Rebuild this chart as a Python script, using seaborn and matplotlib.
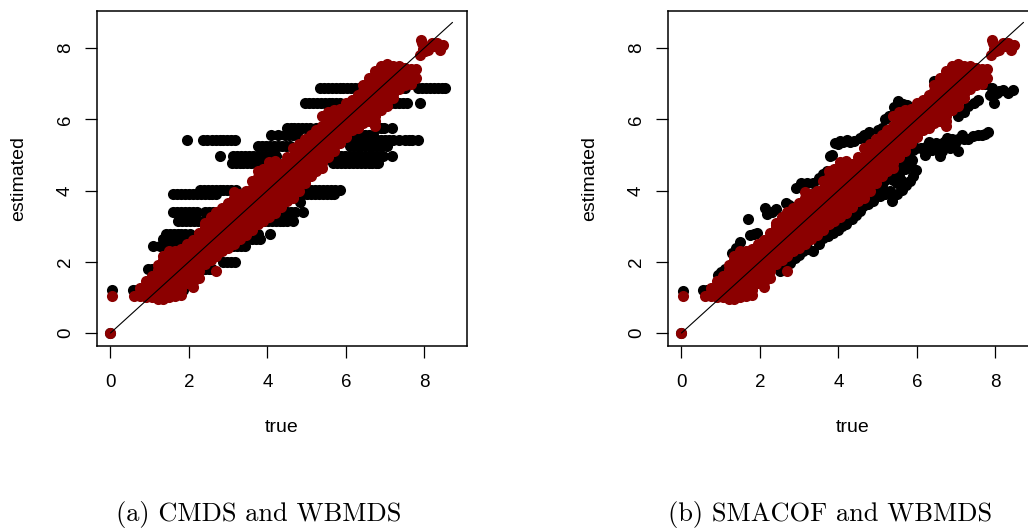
import matplotlib
matplotlib.use('Agg')
import matplotlib.pyplot as plt
import pandas as pd
import seaborn as sns

# WBMDS points, the same in both panels (true value -> estimated values)
red_true = [0.0, 0.05, 0.6, 0.75, 0.9, 1.05, 1.2, 1.35, 1.5, 1.65, 1.8, 1.95, 2.1, 2.25, 2.4,
            2.55, 2.7, 2.85, 3.0, 3.15, 3.3, 3.45, 3.6, 3.75, 3.9, 4.05, 4.2, 4.35, 4.5, 4.65,
            4.8, 4.95, 5.1, 5.25, 5.4, 5.55, 5.7, 5.85, 6.0, 6.15, 6.3, 6.45, 6.6, 6.75, 6.9,
            7.05, 7.2, 7.35, 7.5, 7.65, 7.8]
red_est = [[0.0], [1.03], [1.05], [1.05, 1.25], [1.0, 1.2, 1.45], [1.0, 1.2, 1.4, 1.6],
           [0.95, 1.15, 1.4, 1.65, 1.9], [0.95, 1.2, 1.45, 1.7, 1.95, 2.15], [1.0, 1.25, 1.5, 1.75, 2.0, 2.3],
           [1.05, 1.3, 1.55, 1.8, 2.05, 2.3], [1.08, 1.3, 1.6, 1.85, 2.1, 2.35], [1.4, 1.7, 1.95, 2.2, 2.5],
           [1.3, 1.55, 1.8, 2.05, 2.3, 2.6], [1.55, 1.95, 2.2, 2.45, 2.8], [1.95, 2.2, 2.45, 2.7, 2.95, 3.1],
           [2.05, 2.3, 2.55, 2.8, 3.05, 3.25], [1.74, 2.15, 2.4, 2.65, 2.9, 3.15, 3.4], [2.3, 2.55, 2.8, 3.05, 3.3, 3.5],
           [2.4, 2.65, 2.9, 3.15, 3.4, 3.65], [2.5, 2.75, 3.0, 3.25, 3.5, 3.96], [2.63, 2.9, 3.15, 3.4, 3.65, 3.9],
           [2.75, 3.0, 3.25, 3.5, 3.75, 4.0], [2.9, 3.15, 3.4, 3.65, 3.9, 4.26], [3.05, 3.3, 3.55, 3.8, 4.05, 4.54],
           [3.15, 3.4, 3.65, 3.9, 4.15, 4.4, 4.6], [3.25, 3.5, 3.75, 4.0, 4.25, 4.5, 4.8], [3.37, 3.6, 3.85, 4.1, 4.35, 4.6, 4.82],
           [3.55, 3.8, 4.05, 4.3, 4.55, 4.75], [3.7, 3.95, 4.2, 4.45, 4.7, 4.95], [3.8, 4.05, 4.3, 4.55, 4.8, 5.2],
           [3.98, 4.25, 4.5, 4.75, 5.0, 5.3], [4.2, 4.45, 4.7, 4.95, 5.2, 5.45], [4.4, 4.65, 4.9, 5.15, 5.4, 5.55],
           [4.55, 4.8, 5.05, 5.3, 5.55, 5.7], [4.63, 4.9, 5.15, 5.4, 5.65, 6.08], [4.95, 5.2, 5.45, 5.7, 5.95, 6.2],
           [5.1, 5.35, 5.6, 5.85, 6.1, 6.27], [5.34, 5.6, 5.85, 6.1, 6.3], [5.5, 5.75, 6.0, 6.25, 6.45],
           [5.7, 5.95, 6.2, 6.4, 6.55], [5.76, 6.0, 6.25, 6.5, 6.69], [5.9, 6.15, 6.4, 6.65, 6.95],
           [5.95, 6.2, 6.45, 6.7, 6.95, 7.15], [5.8, 6.1, 6.35, 6.6, 6.85, 7.1, 7.35], [6.25, 6.5, 6.75, 7.0, 7.25, 7.5],
           [6.36, 6.6, 6.85, 7.1, 7.35, 7.55], [6.6, 6.85, 7.1, 7.35, 7.5], [6.85, 7.1, 7.3, 7.5], [6.97, 7.2, 7.44],
           [7.0, 7.2, 7.42], [7.4, 7.15]]
# points between those above, same columns
red_est_mid = [[], [], [], [1.15], [1.1, 1.32], [1.1, 1.3, 1.5], [1.05, 1.28, 1.52, 1.78],
               [1.08, 1.32, 1.58, 1.82, 2.05], [1.12, 1.38, 1.62, 1.88, 2.15], [1.18, 1.42, 1.68, 1.92, 2.18],
               [1.2, 1.45, 1.72, 1.98, 2.22], [1.55, 1.82, 2.08, 2.35], [1.42, 1.68, 1.92, 2.18, 2.45],
               [1.75, 2.08, 2.32, 2.62], [2.08, 2.32, 2.58, 2.82, 3.02], [2.18, 2.42, 2.68, 2.92, 3.15],
               [2.28, 2.52, 2.78, 3.02, 3.28], [2.42, 2.68, 2.92, 3.18, 3.4], [2.52, 2.78, 3.02, 3.28, 3.52],
               [2.62, 2.88, 3.12, 3.38, 3.62, 3.8], [2.76, 3.02, 3.28, 3.52, 3.78], [2.88, 3.12, 3.38, 3.62, 3.88],
               [3.02, 3.28, 3.52, 3.78, 4.05], [3.18, 3.42, 3.68, 3.92, 4.2, 4.38], [3.28, 3.52, 3.78, 4.02, 4.28, 4.5],
               [3.38, 3.62, 3.88, 4.12, 4.38, 4.65], [3.48, 3.72, 3.98, 4.22, 4.48, 4.72], [3.68, 3.92, 4.18, 4.42, 4.65],
               [3.82, 4.08, 4.32, 4.58, 4.82], [3.92, 4.18, 4.42, 4.68, 4.95], [4.12, 4.38, 4.62, 4.88, 5.15],
               [4.32, 4.58, 4.82, 5.08, 5.32], [4.52, 4.78, 5.02, 5.28, 5.48], [4.68, 4.92, 5.18, 5.42, 5.62],
               [4.78, 5.02, 5.28, 5.52, 5.8], [5.08, 5.32, 5.58, 5.82, 6.08], [5.22, 5.48, 5.72, 5.98, 6.18],
               [5.48, 5.72, 5.98, 6.2], [5.62, 5.88, 6.12, 6.35], [5.82, 6.08, 6.3, 6.48], [5.88, 6.12, 6.38, 6.6],
               [6.02, 6.28, 6.52, 6.8], [6.08, 6.32, 6.58, 6.82, 7.05], [5.95, 6.22, 6.48, 6.72, 6.98, 7.22],
               [6.38, 6.62, 6.88, 7.12, 7.38], [6.48, 6.72, 6.98, 7.22, 7.45], [6.72, 6.98, 7.22, 7.42],
               [6.98, 7.2, 7.4], [7.08, 7.32], [7.1, 7.3], []]
red_tip_true = [7.91, 7.93, 7.89, 8.02, 8.1, 8.19, 8.32, 8.49, 8.4, 7.97, 8.26]
red_tip_est = [8.23, 8.14, 7.81, 7.91, 7.95, 8.14, 8.14, 8.09, 7.95, 7.98, 8.06]

# CMDS points: rows at fixed estimated values
cmds_levels = [6.87, 6.45, 5.76, 5.55, 5.41, 5.24, 4.98, 4.78, 4.01, 3.9, 3.68, 3.4, 3.14, 2.77, 2.63, 2.44, 2.0, 1.8, 1.2]
cmds_true = [
    [5.34, 5.44, 5.54, 5.64, 5.74, 5.84, 5.94, 6.04, 6.14, 6.24, 6.34, 6.5, 6.7, 7.3, 7.4, 7.5, 7.85, 7.95, 8.05, 8.15, 8.25, 8.35, 8.45, 8.53],
    [4.96, 5.06, 5.16, 5.26, 5.36, 5.46, 5.56, 5.66, 5.76, 5.85, 6.96, 7.06, 7.16, 7.26, 7.36, 7.46, 7.56, 7.9],
    [4.49, 4.59, 4.69, 4.79, 4.89, 4.99, 5.09, 5.25, 6.8, 6.9, 6.98, 7.17],
    [4.1, 4.28, 4.45, 4.55, 4.65, 4.75, 6.2, 6.3, 6.4, 6.5, 6.6, 6.7],
    [1.96, 2.36, 2.46, 2.58, 2.68, 2.78, 2.88, 2.98, 3.08, 3.17, 6.1, 6.2, 6.3, 6.4, 6.5, 6.6, 6.7, 6.8, 6.9, 7.0, 7.1, 7.2, 7.35, 7.5, 7.6, 7.7, 7.85],
    [3.77, 3.87, 3.97, 4.07, 4.17, 4.27, 4.37, 4.47, 4.57, 6.1, 6.2, 6.3, 6.4, 6.5, 6.6, 6.7, 6.8, 6.9, 7.04],
    [2.79, 3.13, 3.23, 3.33, 3.43, 3.53, 3.63, 3.73, 3.83, 3.93, 4.03, 4.13, 4.23, 5.68, 5.78, 5.88, 5.98, 6.08, 6.18, 6.28, 6.38, 6.48, 6.58, 6.68, 6.78, 6.88, 6.96, 7.19],
    [3.09, 3.19, 3.29, 3.39, 3.49, 3.59, 3.69, 3.8, 3.98, 5.68, 5.78, 5.88, 5.98, 6.08, 6.18, 6.28, 6.38, 6.48, 6.58, 6.68, 6.78, 6.83],
    [2.28, 2.38, 2.48, 2.58, 2.68, 2.78, 2.88, 2.98, 3.08, 3.2, 4.92, 5.02, 5.12, 5.22, 5.32, 5.42, 5.52, 5.62, 5.72, 5.85],
    [1.6, 1.7, 1.8, 1.9, 2.0, 2.1, 2.2, 2.3, 2.4, 2.5, 2.6, 2.7, 4.92, 5.02, 5.12, 5.22, 5.32, 5.42, 5.52, 5.62, 5.7],
    [4.83],
    [1.6, 1.7, 1.8, 1.9, 2.0, 2.1, 2.2, 2.42, 2.52, 2.62, 4.4, 4.5, 4.6, 4.7, 4.9],
    [1.73, 1.83, 1.93, 2.03, 2.13, 2.23, 2.36, 3.81, 3.91, 4.01, 4.11, 4.21, 4.31, 4.41, 4.51, 4.66],
    [1.41, 1.51, 1.61, 1.71, 1.81, 1.91, 2.02, 3.64, 3.77, 4.06],
    [1.35, 1.45, 1.55, 1.65, 1.75, 1.85, 2.0, 3.5, 3.6, 3.7, 3.8],
    [1.09, 1.26, 1.36, 1.46, 1.56, 1.66, 1.76, 1.85, 3.13, 3.23, 3.33, 3.43],
    [2.87, 2.97, 3.07, 3.17],
    [0.96, 1.06, 1.13, 2.3, 2.4, 2.5, 2.58],
    [0.05, 0.58, 0.68, 0.78, 0.88, 0.98, 1.08, 1.18, 1.28, 1.38, 1.48, 1.58, 1.68, 1.78, 1.85],
]

# SMACOF points
smacof_true = [0.04, 0.55, 0.65, 0.94, 1.02, 1.1, 1.7, 1.74, 1.84, 1.93, 1.5, 1.4, 1.3, 2.13, 2.17, 2.3, 2.42, 2.66, 2.75, 2.93, 3.04, 3.2, 3.36, 3.5, 3.61, 3.7, 3.78, 3.85,
               3.91, 4.0, 4.05, 4.12, 4.21, 4.3, 4.4, 4.55, 4.65, 4.78, 4.7, 5.0, 5.1, 5.19, 5.3, 5.53, 5.42, 5.64, 5.74, 6.44,
               2.51, 2.62, 2.76, 2.9, 3.0, 3.1, 3.22, 3.36, 3.5, 3.61, 3.74, 3.87, 3.98, 4.08, 4.2, 4.34, 4.45, 4.55, 4.63, 4.76, 4.89, 5.05, 5.18, 5.31, 5.37, 5.5, 5.61, 5.72, 5.82, 5.9, 5.99,
               5.78, 5.7, 5.6, 5.55, 5.45, 5.4, 5.3, 5.2, 5.1, 5.0, 4.9, 4.8, 5.88, 5.6, 5.7, 5.5, 5.85, 5.2,
               5.8, 5.9, 5.99, 6.1, 6.21, 6.25, 6.38, 6.59, 6.5, 6.65, 6.76, 6.88, 7.06, 7.14, 6.97, 6.4, 6.3, 6.85, 7.0, 7.2, 7.3, 7.44, 7.55, 7.65, 7.75, 7.82,
               6.7, 6.55, 6.8, 6.3, 6.6, 6.9, 7.05, 6.2,
               7.06, 7.2, 7.31, 7.45, 7.57, 7.91, 7.98, 7.87, 7.95, 8.1, 8.21, 8.46, 8.33, 8.05, 7.65, 7.75]
smacof_est = [1.18, 1.2, 1.2, 1.64, 1.7, 1.8, 3.2, 2.74, 2.78, 2.81, 2.55, 2.4, 2.25, 3.51, 3.33, 3.4, 3.47, 3.65, 3.6, 4.07, 4.21, 4.2, 4.21, 4.35, 4.45, 4.55, 4.98, 5.0,
              5.34, 5.3, 5.4, 5.37, 5.43, 5.35, 5.4, 5.48, 5.55, 5.64, 5.45, 5.7, 5.76, 6.0, 6.1, 6.5, 6.35, 6.42, 6.41, 7.08,
              1.74, 1.8, 1.97, 2.1, 2.2, 2.3, 2.35, 2.3, 2.5, 2.67, 2.72, 2.81, 2.9, 3.0, 3.05, 3.19, 3.3, 3.42, 3.56, 3.62, 3.7, 3.85, 3.9, 3.98, 3.7, 3.9, 4.01, 4.15, 4.26, 4.42, 4.59,
              4.75, 4.9, 4.8, 4.45, 4.6, 4.3, 4.4, 4.3, 4.15, 4.1, 4.05, 3.9, 4.85, 4.3, 4.6, 4.2, 4.7, 3.95,
              5.1, 5.15, 5.2, 5.2, 5.0, 5.24, 5.2, 4.96, 5.34, 5.1, 5.48, 5.3, 5.1, 5.57, 5.34, 5.15, 5.15, 5.2, 5.4, 5.45, 5.45, 5.52, 5.55, 5.57, 5.6, 5.64,
              5.35, 5.25, 5.42, 5.35, 5.3, 5.45, 5.45, 5.1,
              6.08, 6.2, 6.36, 6.45, 6.55, 6.88, 6.46, 6.69, 6.7, 6.8, 6.83, 6.81, 6.74, 6.75, 7.11, 7.0]

captions = ['(a) CMDS and WBMDS', '(b) SMACOF and WBMDS']
ticks = [0, 2, 4, 6, 8]
line_ends = [0, 8.72]

DARKRED = '#8B0000'
W, H = 1028, 529

sns.set_theme(style='white')
plt.rcParams['font.family'] = ['Liberation Sans', 'DejaVu Sans']

red = pd.DataFrame({
    'true': [x for x, ys in zip(red_true, red_est) for y in ys]
            + [x for x, ys in zip(red_true, red_est_mid) for y in ys] + red_tip_true,
    'est': [y for ys in red_est for y in ys]
           + [y for ys in red_est_mid for y in ys] + red_tip_est,
})
origin = pd.DataFrame({'true': [0.0], 'est': [0.0]})
cmds = pd.DataFrame({
    'true': [x for row in cmds_true for x in row],
    'est': [lv for lv, row in zip(cmds_levels, cmds_true) for x in row],
})
smacof = pd.DataFrame({'true': smacof_true, 'est': smacof_est})
black_sets = [pd.concat([cmds, origin]), pd.concat([smacof, origin])]

fig = plt.figure(figsize=(W / 100, H / 100), dpi=100)
for left, black, cap, cap_x in zip([97, 668], black_sets, captions, [259, 830]):
    ax = fig.add_axes([left / W, 1 - 346 / H, 370 / W, 335 / H])
    sns.scatterplot(data=black, x='true', y='est', color='black', s=64, linewidth=0, ax=ax)
    sns.scatterplot(data=red, x='true', y='est', color=DARKRED, s=64, linewidth=0, ax=ax)
    sns.lineplot(x=line_ends, y=line_ends, color='black', lw=0.8, ax=ax)
    ax.set_xlim(-0.344, 9.09)
    ax.set_ylim(-0.365, 9.04)
    ax.set_xticks(ticks)
    ax.set_yticks(ticks)
    ax.tick_params(length=8.5, width=0.9, labelsize=13.5, color='black', labelcolor='black', left=True, bottom=True)
    ax.tick_params(axis='x', pad=12)
    ax.tick_params(axis='y', pad=8)
    plt.setp(ax.get_yticklabels(), rotation=90, va='center')
    ax.set_xlabel('true', fontsize=14, color='black', va='center')
    ax.set_ylabel('estimated', fontsize=14, color='black', va='center')
    ax.xaxis.set_label_coords(0.5, -(428 - 346) / 335)
    ax.yaxis.set_label_coords(-78 / 370, 0.5)
    for s in ax.spines.values():
        s.set_color('black')
        s.set_linewidth(1.1)
    fig.text(cap_x / W, 1 - 514 / H, cap, ha='center', va='center', fontsize=19,
             color='black', family=['cmr10', 'Liberation Serif'])

fig.savefig('out.png', dpi=100)
